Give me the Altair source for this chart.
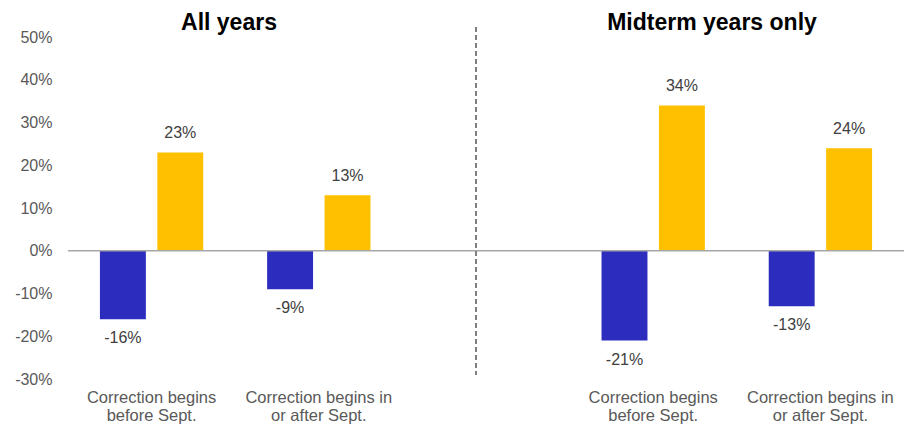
import altair as alt
import pandas as pd

categories = ["Correction begins\nbefore Sept.", "Correction begins in\nor after Sept.", " ",
              "Correction begins\nbefore Sept. ", "Correction begins in\nor after Sept. "]
series_names = ["Correction", "Recovery"]
blue_values = [-16, -9, None, -21, -13]
yellow_values = [23, 13, None, 34, 24]
panel_titles = ["All years", "Midterm years only"]
y_ticks = [-30, -20, -10, 0, 10, 20, 30, 40, 50]

rows = []
for c, b, y in zip(categories, blue_values, yellow_values):
    if b is not None:
        rows.append({"cat": c, "series": series_names[0], "value": b})
        rows.append({"cat": c, "series": series_names[1], "value": y})
df = pd.DataFrame(rows)

W, H = 836, 342
FONT = "Liberation Sans"

x_enc = alt.X("cat:N", sort=categories,
              scale=alt.Scale(domain=categories, paddingInner=0, paddingOuter=0),
              axis=alt.Axis(title=None, labelAngle=0, ticks=False, domain=False,
                            labelPadding=10, labelFontSize=16.5, labelColor="#595959",
                            labelFont=FONT, labelLineHeight=18,
                            labelExpr="split(datum.label, '\\n')"))
xoff = alt.XOffset("series:N", sort=series_names,
                   scale=alt.Scale(paddingInner=0.2, paddingOuter=0.556))
y_enc = alt.Y("value:Q", scale=alt.Scale(domain=[-30, 50], nice=False),
              axis=alt.Axis(title=None, values=y_ticks, ticks=False, domain=False,
                            grid=False, labelPadding=16, labelFontSize=16,
                            labelColor="#595959", labelFont=FONT,
                            labelExpr="datum.value + '%'"))
color = alt.Color("series:N", scale=alt.Scale(domain=series_names,
                                              range=["#2C2DBE", "#FFC000"]), legend=None)

base = alt.Chart(df)
bars = base.mark_bar().encode(x=x_enc, xOffset=xoff, y=y_enc, color=color)

lab_x = alt.X("cat:N", sort=categories)
lab_off = alt.XOffset("series:N", sort=series_names)
pos_labels = base.transform_filter("datum.value >= 0").transform_calculate(
    label="datum.value + '%'").mark_text(
    baseline="alphabetic", dy=-14, fontSize=16, font=FONT, color="#404040"
).encode(x=lab_x, xOffset=lab_off, y="value:Q", text=alt.Text("label:N"))
neg_labels = base.transform_filter("datum.value < 0").transform_calculate(
    label="datum.value + '%'").mark_text(
    baseline="alphabetic", dy=24, fontSize=16, font=FONT, color="#404040"
).encode(x=lab_x, xOffset=lab_off, y="value:Q", text=alt.Text("label:N"))

zero = alt.Chart(pd.DataFrame({"z": [0]})).mark_rule(color="#A6A6A6", strokeWidth=1.5).encode(
    y=alt.Y("z:Q"), x=alt.value(0), x2=alt.value(W))

divider = alt.Chart(pd.DataFrame({"d": [0]})).mark_rule(
    color="#7F7F7F", strokeWidth=2, strokeDash=[5, 3]
).encode(x=alt.value(408), y=alt.value(-10), y2=alt.value(338))

titles_df = pd.DataFrame({"t": panel_titles, "px": [161, 644]})
titles = alt.Chart(titles_df).mark_text(
    fontSize=23, fontWeight="bold", font=FONT, color="#000000", baseline="alphabetic"
).encode(text="t:N", x=alt.X("px:Q", scale=None), y=alt.value(-7))

chart = alt.layer(bars, zero, divider, pos_labels, neg_labels, titles).properties(
    width=W, height=H, autosize="none",
    padding={"left": 60, "top": 29, "right": 0, "bottom": 48},
).configure_view(stroke=None).configure_axis(grid=False)

chart.save("out.html", embed_options={"renderer": "svg", "actions": False})
